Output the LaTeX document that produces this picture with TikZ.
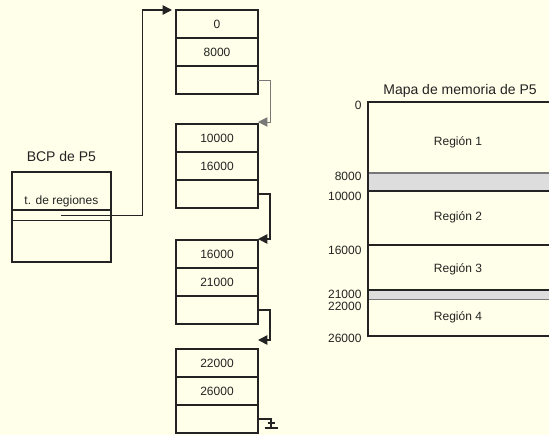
\documentclass[tikz,border=0pt]{standalone}
\usepackage{fontspec}
\setmainfont{Liberation Sans}
\usetikzlibrary{positioning,arrows.meta}

\definecolor{paper}{RGB}{255,255,234}
\definecolor{band}{RGB}{221,221,221}
\definecolor{ink}{RGB}{35,35,35}
\definecolor{edge}{RGB}{120,120,120}

\tikzset{every picture/.style={line width=0.75pt}}

\begin{document}
\begin{tikzpicture}[x=0.75pt,y=0.75pt,yscale=-1,xscale=1,
    cell/.style={draw=ink,line width=1.1pt,minimum width=61.5pt,minimum height=21pt,inner sep=0pt,outer sep=0pt,text=ink,font=\fontsize{9}{10}\selectfont},
    link/.style={draw=ink,line width=1.1pt,-{Triangle[length=7pt,width=7pt]}},
    lbl/.style={inner sep=0.75pt,text=ink,font=\fontsize{9}{10}\selectfont},
    title/.style={inner sep=0.75pt,text=ink,font=\fontsize{10.5}{12}\selectfont}]

        %set diagram area 549 x 435
        \path[use as bounding box,fill=paper] (0,0) rectangle (549,435);

        %Table of regions: four entries
        \node[cell] (b1r1) at (217,24) {0};
        \node[cell,below=0pt of b1r1] (b1r2) {8000};
        \node[cell,below=0pt of b1r2] (b1r3) {};

        \node[cell] (b2r1) at (217,138) {10000};
        \node[cell,below=0pt of b2r1] (b2r2) {16000};
        \node[cell,below=0pt of b2r2] (b2r3) {};

        \node[cell] (b3r1) at (217,254) {16000};
        \node[cell,below=0pt of b3r1] (b3r2) {21000};
        \node[cell,below=0pt of b3r2] (b3r3) {};

        \node[cell] (b4r1) at (217,363) {22000};
        \node[cell,below=0pt of b4r1] (b4r2) {26000};
        \node[cell,below=0pt of b4r2] (b4r3) {};

        %Links between entries
        \draw[link,draw=edge,line width=0.75pt] (b1r3.east) -- ++(12,0) |- ([yshift=-1.5pt]b2r1.north east);
        \draw[link] (b2r3.east) -- ++(12,0) |- ([yshift=-0.75pt]b3r1.north east);
        \draw[link] (b3r3.east) -- ++(12,0) |- ([yshift=-6.75pt]b4r1.north east);

        %Null pointer at the end of the list
        \draw[ink,line width=1.1pt] (b4r3.east) -- ++(13,0) -- ++(0,9) coordinate (gnd);
        \draw[ink,line width=1.1pt] (gnd) ++(-6.5,0) -- ++(13,0);
        \draw[ink,line width=1.1pt] ([yshift=-3.75pt]gnd) ++(-3.5,0) -- ++(7,0);

        %BCP
        \node[draw=ink,line width=1.1pt,minimum width=74.25pt,minimum height=67.7pt,inner sep=0pt] (bcp) at (61.4,216.9) {};
        \node[draw=ink,line width=1.1pt,minimum width=74.25pt,minimum height=8pt,inner sep=0pt] (treg) at (61.4,215.4) {};
        % Text Node
        \node[lbl,above=1pt of treg] (tregtxt) {t. de regiones};
        % Text Node
        \node[title,above=6pt of bcp] (bcptitle) {BCP de P5};

        %Pointer to the table
        \coordinate (up) at (142.7,10);
        \draw[link,line width=1pt,shorten >=3pt] (treg.center) -| (up) -- (b1r1.north west);

        %Memory map
        \fill[band] (368.3,173) rectangle (549,191);
        \fill[band] (368.3,290) rectangle (549,299.5);
        \draw[edge,line width=1.2pt] (368.3,173) -- (549,173);
        \draw[edge,line width=1.2pt] (368.3,299.5) -- (549,299.5);
        \draw[ink,line width=1.5pt] (368.3,191) -- (549,191);
        \draw[ink,line width=1.5pt] (368.3,244.5) -- (549,244.5);
        \draw[ink,line width=1.5pt] (368.3,290) -- (549,290);
        \draw[ink,line width=1.5pt] (549,102.3) -- (368.3,102.3) -- (368.3,336) -- (549,336);

        % Text Node
        \node[title] (maptitle) at (460,91) {Mapa de memoria de P5};
        % Text Node
        \node[lbl] (reg1) at (458,142) {Región 1};
        \node[lbl] (reg2) at (458,217) {Región 2};
        \node[lbl] (reg3) at (458,269) {Región 3};
        \node[lbl] (reg4) at (458,317) {Región 4};

        % Text Node
        \node[lbl,anchor=east] (addr0) at (363,105) {0};
        \node[lbl,anchor=east] (addr8) at (363,176) {8000};
        \node[lbl,anchor=east] (addr10) at (363,196) {10000};
        \node[lbl,anchor=east] (addr16) at (363,250) {16000};
        \node[lbl,anchor=east] (addr21) at (363,294) {21000};
        \node[lbl,anchor=east] (addr22) at (363,306) {22000};
        \node[lbl,anchor=east] (addr26) at (363,338) {26000};

\end{tikzpicture}
\end{document}
